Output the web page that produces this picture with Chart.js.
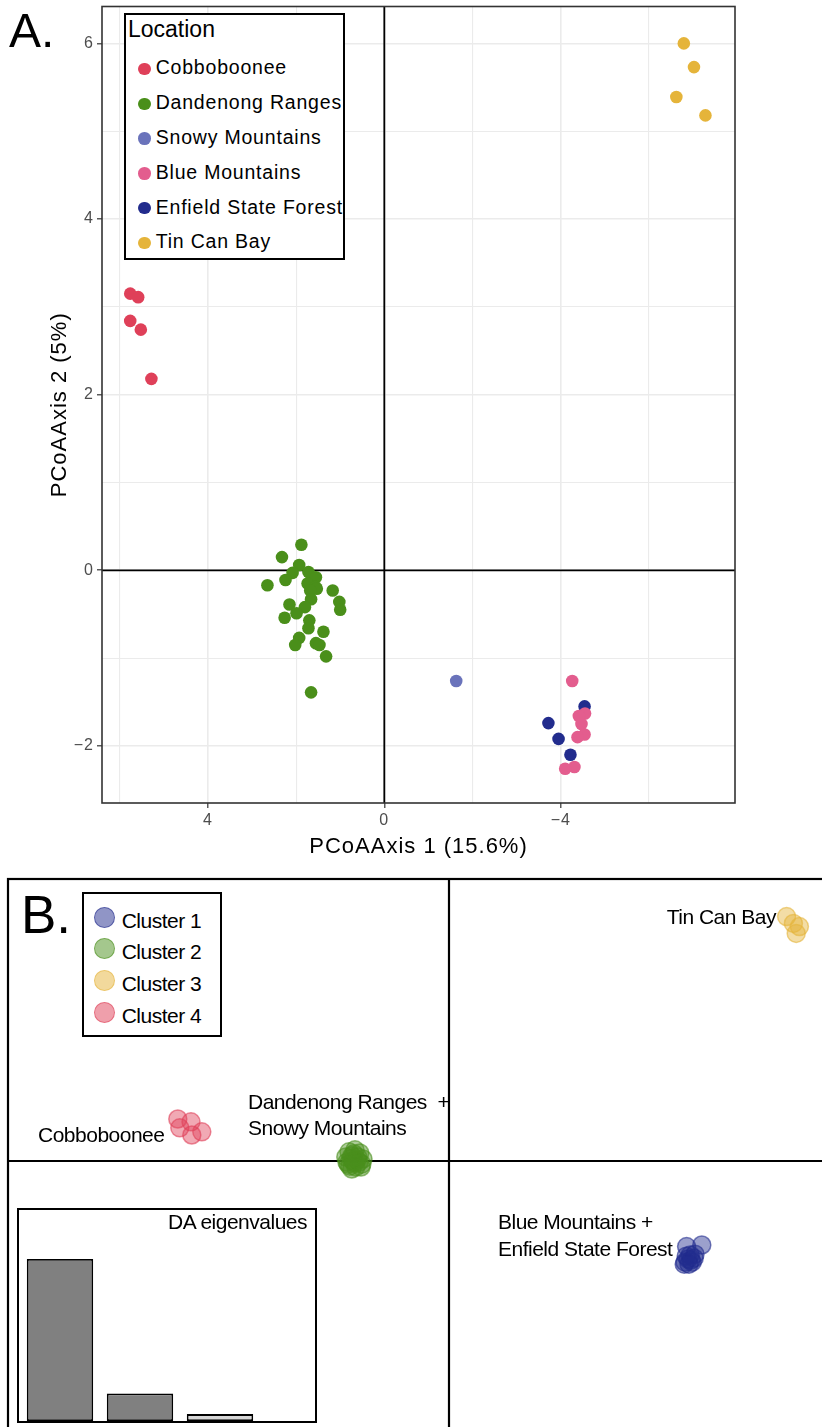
<!DOCTYPE html>
<html>
<head>
<meta charset="utf-8">
<script src="https://cdn.jsdelivr.net/npm/chart.js@4.4.1/dist/chart.umd.min.js"></script>
<style>
html, body { margin: 0; padding: 0; background: #fff; }
body { width: 822px; height: 1427px; position: relative; overflow: hidden;
       font-family: "Liberation Sans", Arial, sans-serif; color: #000; }
canvas { position: absolute; }
.txt { position: absolute; white-space: pre; line-height: 1; }
.box { position: absolute; box-sizing: border-box; border: 2px solid #000; background: #fff; }
.dot { position: absolute; border-radius: 50%; box-sizing: border-box; }
</style>
</head>
<body>
<canvas id="pcoa" width="822" height="870" style="left:0;top:0"></canvas>
<canvas id="dapc" width="860" height="600" style="left:0;top:870px"></canvas>
<div id="eigBox" class="box" style="left:17px;top:1208px;width:300px;height:215px">
  <canvas id="eig" width="296" height="211" style="left:0;top:0"></canvas>
</div>
<div id="legA" class="box" style="left:124px;top:13px;width:221px;height:247px"></div>
<div id="legB" class="box" style="left:82px;top:892px;width:140px;height:145px"></div>

<script>
// ---- Panel A: PCoA, one array of [axis1, axis2] per location ----
const locationNames = ['Cobboboonee', 'Dandenong Ranges', 'Snowy Mountains', 'Blue Mountains', 'Enfield State Forest', 'Tin Can Bay'];
const locationColors = ['#df4059', '#4a8f1a', '#6a73bb', '#e35d8e', '#222c8d', '#e5b43a'];

const cobboboonee = [[5.76, 3.15], [5.58, 3.11], [5.76, 2.84], [5.52, 2.74], [5.28, 2.18]];
const dandenong = [
  [1.88, 0.29], [2.32, 0.15], [1.93, 0.06], [2.08, -0.03], [1.72, -0.02], [1.55, -0.08],
  [2.24, -0.11], [2.65, -0.17], [1.74, -0.15], [1.56, -0.19], [1.53, -0.21], [1.17, -0.23],
  [1.68, -0.23], [1.66, -0.33], [1.02, -0.36], [1.00, -0.45], [2.15, -0.39], [1.80, -0.42],
  [1.99, -0.49], [2.26, -0.54], [1.70, -0.57], [1.72, -0.66], [1.38, -0.70], [1.93, -0.77],
  [2.02, -0.85], [1.55, -0.83], [1.47, -0.85], [1.32, -0.98], [1.66, -1.39]
];
const snowy = [[-1.63, -1.26]];
const blueMountains = [[-4.26, -1.26], [-4.55, -1.63], [-4.41, -1.66], [-4.47, -1.75], [-4.54, -1.87], [-4.38, -1.90], [-4.31, -2.24], [-4.10, -2.26]];
const enfield = [[-4.54, -1.55], [-3.72, -1.74], [-3.95, -1.92], [-4.22, -2.10]];
const tinCanBay = [[-6.79, 6.00], [-7.02, 5.73], [-6.62, 5.39], [-7.28, 5.18]];
const locationPoints = [cobboboonee, dandenong, snowy, blueMountains, enfield, tinCanBay];

const xGridA = [-6, -4, -2, 0, 2, 4, 6];
const xLabelsA = [4, 0, -4];
const yGridA = [-2, -1, 0, 1, 2, 3, 4, 5, 6];
const yLabelsA = [6, 4, 2, 0, -2];

// ---- Panel B: DAPC scores (LD1, LD2), one array per cluster ----
const clusterNames = ['Cluster 1', 'Cluster 2', 'Cluster 3', 'Cluster 4'];
const clusterRgb = ['34,44,141', '74,143,28', '229,180,58', '224,64,88'];
const cluster1 = [[5.94, -2.14], [6.32, -2.10], [6.03, -2.35], [6.13, -2.43], [5.90, -2.53], [5.98, -2.45],
  [6.08, -2.53], [5.93, -2.38], [6.05, -2.48], [5.88, -2.58], [6.15, -2.33], [6.00, -2.58]];
const cluster2 = [[-2.35, 0.28], [-2.50, 0.23], [-2.23, 0.20], [-2.58, 0.10], [-2.43, 0.13], [-2.28, 0.10],
  [-2.15, 0.05], [-2.55, -0.03], [-2.40, 0.00], [-2.25, -0.03], [-2.48, -0.13], [-2.33, -0.15],
  [-2.18, -0.08], [-2.43, -0.20], [-2.30, 0.03], [-2.38, 0.18], [-2.52, -0.08], [-2.20, -0.15],
  [-2.36, -0.05], [-2.45, 0.06]];
const cluster3 = [[8.44, 6.11], [8.76, 5.86], [8.61, 5.94], [8.68, 5.69]];
const cluster4 = [[-6.78, 1.05], [-6.45, 0.98], [-6.18, 0.73], [-6.43, 0.65], [-6.73, 0.83]];
const clusterPoints = [cluster1, cluster2, cluster3, cluster4];

const eigenLabels = ['1', '2', '3'];
const eigenValues = [23.5, 4.0, 1.0];
const eigenColors = ['#808080', '#808080', '#d6d6d6'];

// Text labels of panel B: [text, x, baseline, align]
const groupLabels = [
  ['Tin Can Bay', 776, 924, 'right'],
  ['Cobboboonee', 38, 1142, 'left'],
  ['Dandenong Ranges  +', 248, 1109, 'left'],
  ['Snowy Mountains', 248, 1135, 'left'],
  ['Blue Mountains +', 498, 1229, 'left'],
  ['Enfield State Forest', 498, 1256, 'left'],
  ['DA eigenvalues', 307, 1229, 'right']
];

// frame + zero lines drawn around the plotting area
const framePlugin = {
  id: 'frame',
  beforeDraw(chart, args, opts) {
    if (opts.spacing) chart.ctx.letterSpacing = opts.spacing;
  },
  beforeDatasetsDraw(chart, args, opts) {
    if (!opts.zero) return;
    const {ctx, chartArea: a, scales: {x, y}} = chart;
    const x0 = x.getPixelForValue(0), y0 = y.getPixelForValue(0);
    ctx.save();
    ctx.strokeStyle = '#000';
    ctx.lineWidth = opts.zero;
    ctx.beginPath();
    ctx.moveTo(x0, a.top); ctx.lineTo(x0, a.bottom);
    ctx.moveTo(a.left, y0); ctx.lineTo(a.right, y0);
    ctx.stroke();
    ctx.restore();
  },
  afterDatasetsDraw(chart, args, opts) {
    if (!opts.width) return;
    const {ctx, chartArea: a} = chart;
    ctx.save();
    ctx.strokeStyle = opts.color || '#000';
    ctx.lineWidth = opts.width;
    ctx.strokeRect(a.left, a.top, a.right - a.left, a.bottom - a.top);
    ctx.restore();
  }
};

const fmt = v => v < 0 ? '\u2212' + Math.abs(v) : String(v);
const gridColor = '#ebebeb';
const noPad = s => { s.paddingTop = 0; s.paddingBottom = 0; s.paddingLeft = 0; s.paddingRight = 0; };

new Chart(document.getElementById('pcoa').getContext('2d'), {
  type: 'scatter',
  data: {
    datasets: locationNames.map((name, i) => ({
      label: name,
      data: locationPoints[i].map(p => ({x: p[0], y: p[1]})),
      backgroundColor: locationColors[i],
      borderWidth: 0,
      pointRadius: 6.3
    }))
  },
  options: {
    responsive: false,
    animation: false,
    layout: {autoPadding: false, padding: {left: 0, top: 6.5, right: 87, bottom: 0}},
    plugins: {
      legend: {display: false},
      tooltip: {enabled: false},
      frame: {color: '#333', width: 1.6, zero: 1.8, spacing: '1px'}
    },
    scales: {
      x: {
        type: 'linear', reverse: true, min: -7.95, max: 6.4,
        afterBuildTicks: s => { s.ticks = xGridA.map(v => ({value: v})); },
        afterFit: s => { s.height = 67; noPad(s); },
        border: {display: false},
        grid: {
          color: gridColor,
          lineWidth: c => xLabelsA.includes(c.tick.value) ? 1.6 : 1.1,
          tickColor: c => xLabelsA.includes(c.tick.value) ? '#333' : 'rgba(0,0,0,0)',
          tickLength: 5, tickWidth: 1.2
        },
        ticks: {
          callback: v => xLabelsA.includes(v) ? fmt(v) : '',
          color: '#4d4d4d', font: {size: 16, family: 'Liberation Sans'}, padding: 3, maxRotation: 0
        },
        title: {display: true, text: 'PCoAAxis 1 (15.6%)', color: '#000',
                font: {size: 22, family: 'Liberation Sans'}, padding: {top: 0, bottom: 10}}
      },
      y: {
        type: 'linear', min: -2.65, max: 6.42,
        afterBuildTicks: s => { s.ticks = yGridA.map(v => ({value: v})); },
        afterFit: s => { s.width = 102; noPad(s); },
        border: {display: false},
        grid: {
          color: gridColor,
          lineWidth: c => yLabelsA.includes(c.tick.value) ? 1.6 : 1.1,
          tickColor: c => yLabelsA.includes(c.tick.value) ? '#333' : 'rgba(0,0,0,0)',
          tickLength: 5, tickWidth: 1.2
        },
        ticks: {
          callback: v => yLabelsA.includes(v) ? fmt(v) : '',
          color: '#4d4d4d', font: {size: 16, family: 'Liberation Sans'}, padding: 3
        },
        title: {display: true, text: 'PCoAAxis 2 (5%)', color: '#000',
                font: {size: 22, family: 'Liberation Sans'}, padding: {top: 47, bottom: 0}}
      }
    }
  },
  plugins: [framePlugin]
});

new Chart(document.getElementById('dapc').getContext('2d'), {
  type: 'scatter',
  data: {
    datasets: clusterNames.map((name, i) => ({
      label: name,
      data: clusterPoints[i].map(p => ({x: p[0], y: p[1]})),
      backgroundColor: 'rgba(' + clusterRgb[i] + ',0.45)',
      borderColor: 'rgba(' + clusterRgb[i] + ',0.6)',
      borderWidth: 1.5,
      pointRadius: 9
    }))
  },
  options: {
    responsive: false,
    animation: false,
    layout: {autoPadding: false, padding: {left: 8, top: 9, right: 0, bottom: 0}},
    plugins: {
      legend: {display: false},
      tooltip: {enabled: false},
      frame: {color: '#000', width: 2.2, zero: 2.2}
    },
    scales: {
      x: {type: 'linear', display: false, min: -11.025, max: 10.275},
      y: {type: 'linear', display: false, min: -7.725, max: 7.05}
    }
  },
  plugins: [framePlugin]
});

new Chart(document.getElementById('eig').getContext('2d'), {
  type: 'bar',
  data: {
    labels: eigenLabels,
    datasets: [{
      data: eigenValues,
      backgroundColor: eigenColors,
      borderColor: '#000',
      borderWidth: 1.8,
      borderSkipped: false,
      barPercentage: 0.83,
      categoryPercentage: 1
    }]
  },
  options: {
    responsive: false,
    animation: false,
    layout: {autoPadding: false, padding: {left: 1, right: 55, top: 0, bottom: 0}},
    plugins: {legend: {display: false}, tooltip: {enabled: false}},
    scales: {
      x: {display: false},
      y: {display: false, min: 0, max: 30.6}
    }
  }
});

// ---- HTML text: legends, panel letters, group labels ----
function addText(parent, text, x, baseline, size, align, extra) {
  const d = document.createElement('div');
  d.className = 'txt';
  d.textContent = text;
  d.style.fontSize = size + 'px';
  d.style.top = (baseline - 0.8465 * size) + 'px';
  if (align === 'right') d.style.right = (822 - x) + 'px';
  else d.style.left = x + 'px';
  Object.assign(d.style, extra || {});
  parent.appendChild(d);
  return d;
}

addText(document.body, 'A.', 9, 48, 48, 'left');
addText(document.body, 'B.', 21, 933, 53, 'left');

// legend A (positions relative to the box, inside 2px border)
const legA = document.getElementById('legA');
const la = document.createElement('div');
la.className = 'txt'; la.textContent = 'Location';
la.style.cssText += 'font-size:23px;left:2px;top:' + (37 - 15 - 19.5) + 'px';
legA.appendChild(la);
locationNames.forEach((name, i) => {
  const cy = 69 + i * 34.8 - 15;
  const dot = document.createElement('div');
  dot.className = 'dot';
  dot.style.cssText += 'width:12.6px;height:12.6px;left:' + (144.3 - 126 - 6.3) + 'px;top:' + (cy - 6.3) + 'px;background:' + locationColors[i];
  legA.appendChild(dot);
  const t = document.createElement('div');
  t.className = 'txt'; t.textContent = name;
  t.style.cssText += 'font-size:19.5px;letter-spacing:0.8px;left:' + (155.7 - 126) + 'px;top:' + (cy + 6 - 0.8465 * 19.5) + 'px';
  legA.appendChild(t);
});

// legend B
const legB = document.getElementById('legB');
clusterNames.forEach((name, i) => {
  const cy = 917 + i * 31.7 - 894;
  const dot = document.createElement('div');
  dot.className = 'dot';
  dot.style.cssText += 'width:21px;height:21px;left:' + (104.3 - 84 - 10.5) + 'px;top:' + (cy - 10.5) + 'px;' +
    'background:rgba(' + clusterRgb[i] + ',0.5);border:1.5px solid rgba(' + clusterRgb[i] + ',0.55)';
  legB.appendChild(dot);
  const t = document.createElement('div');
  t.className = 'txt'; t.textContent = name;
  t.style.cssText += 'font-size:21px;letter-spacing:-0.5px;left:' + (121.7 - 84) + 'px;top:' + (cy + 10.3 - 0.8465 * 21) + 'px';
  legB.appendChild(t);
});

groupLabels.forEach(g => addText(document.body, g[0], g[1], g[2], 21, g[3], {letterSpacing: '-0.5px'}));
</script>
</body>
</html>
